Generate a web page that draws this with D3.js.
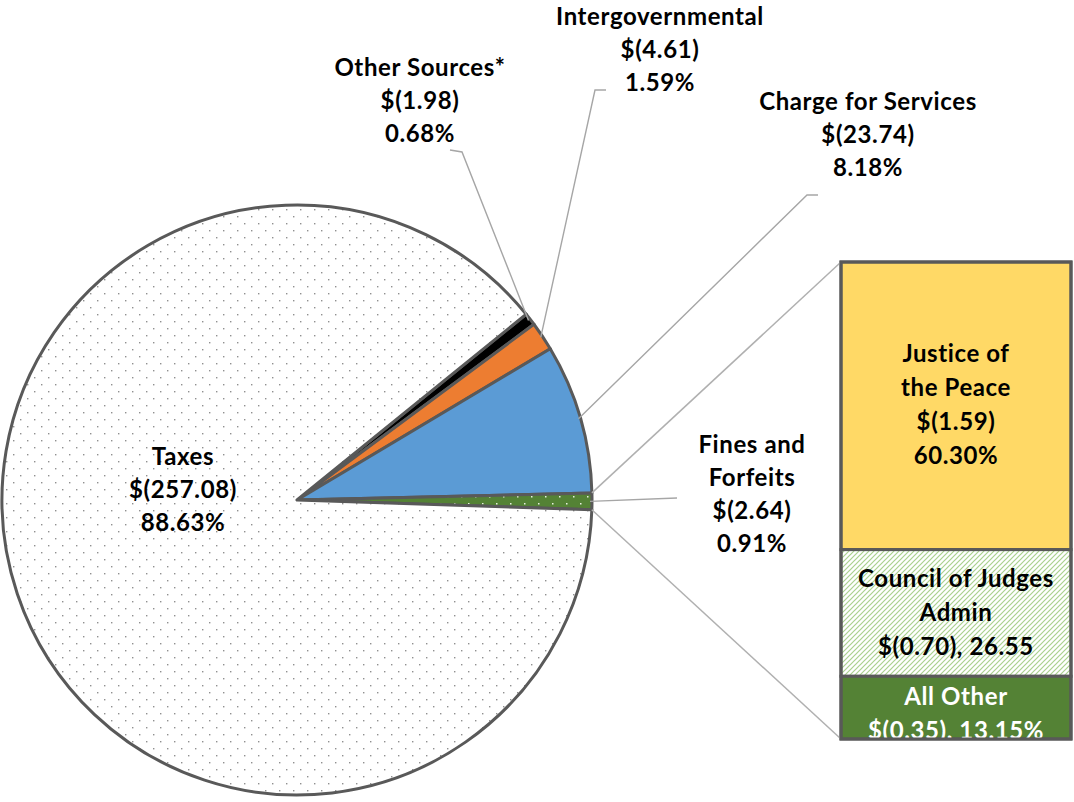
<!DOCTYPE html>
<html>
<head>
<meta charset="utf-8">
<script src="https://cdn.jsdelivr.net/npm/d3@7"></script>
<style>
  body { margin: 0; background: #fff; }
  svg text { font-family: Lato, "Open Sans", sans-serif; font-weight: 700; font-size: 24px; letter-spacing: 0.6px; fill: #000; }
</style>
</head>
<body>
<div id="chart"></div>
<script>
// revenue data (in millions), pie part
var pieNames = ["Other Sources*", "Intergovernmental", "Charge for Services", "Fines and Forfeits", "Taxes"];
var pieAmounts = [1.98, 4.61, 23.74, 2.64, 257.08];
var piePercents = [0.68, 1.59, 8.18, 0.91, 88.63];
var pieNameLines = [["Other Sources*"], ["Intergovernmental"], ["Charge for Services"], ["Fines and", "Forfeits"], ["Taxes"]];

// breakdown of fines and forfeits (bar part)
var barNames = ["Justice of the Peace", "Council of Judges Admin", "All Other"];
var barAmounts = [1.59, 0.70, 0.35];
var barPercents = [60.30, 26.55, 13.15];

var width = 1074;
var height = 802;
var cx = 297, cy = 500, radius = 295;
var bar = {left: 841, right: 1071, top: 262, bottom: 739};
var lineGap = 33;

var svg = d3.select("#chart").append("svg")
  .attr("width", width)
  .attr("height", height);

// patterns
var defs = svg.append("defs");
var dots = defs.append("pattern").attr("id", "dotsGray")
  .attr("patternUnits", "userSpaceOnUse").attr("width", 14).attr("height", 14);
dots.append("rect").attr("width", 14).attr("height", 14).attr("fill", "#fff");
dots.append("rect").attr("x", 3).attr("y", 3).attr("width", 1.4).attr("height", 1.4).attr("fill", "#909090");
dots.append("rect").attr("x", 10).attr("y", 10).attr("width", 1.4).attr("height", 1.4).attr("fill", "#909090");

var dotsGreen = defs.append("pattern").attr("id", "dotsGreen")
  .attr("patternUnits", "userSpaceOnUse").attr("width", 14).attr("height", 14);
dotsGreen.append("rect").attr("width", 14).attr("height", 14).attr("fill", "#548235");
dotsGreen.append("rect").attr("x", 3).attr("y", 3).attr("width", 1.5).attr("height", 1.5).attr("fill", "#e8f0e0");
dotsGreen.append("rect").attr("x", 10).attr("y", 10).attr("width", 1.5).attr("height", 1.5).attr("fill", "#e8f0e0");

var hatch = defs.append("pattern").attr("id", "hatch")
  .attr("patternUnits", "userSpaceOnUse").attr("width", 5).attr("height", 5);
hatch.append("rect").attr("width", 5).attr("height", 5).attr("fill", "#fff");
hatch.append("path").attr("d", "M-1,1 l2,-2 M0,5 l5,-5 M4,6 l2,-2")
  .attr("stroke", "#a9d18e").attr("stroke-width", 1.2);

var pieFills = ["#000000", "#ed7d31", "#5b9bd5", "url(#dotsGreen)", "url(#dotsGray)"];
var barFills = ["#ffd966", "url(#hatch)", "#548235"];
var barTextColors = ["#000", "#000", "#fff"];

// pie layout, fines slice sitting on the right horizontal
var deg = Math.PI / 180;
var total = d3.sum(pieAmounts);
var smallSum = d3.sum(pieAmounts.slice(0, 4));
var endOfFines = 91.9 * deg;
var start = endOfFines - smallSum / total * 2 * Math.PI;

var pie = d3.pie().sort(null).startAngle(start).endAngle(start + 2 * Math.PI);
var arcs = pie(pieAmounts);
var arc = d3.arc().innerRadius(0).outerRadius(radius);

function rimPoint(a, r) {
  return [cx + r * Math.sin(a), cy - r * Math.cos(a)];
}

var g = svg.append("g").attr("transform", "translate(" + cx + "," + cy + ")");
g.selectAll("path.slice")
  .data(arcs)
  .enter()
  .append("path")
  .attr("class", "slice")
  .attr("d", arc)
  .attr("fill", function(d, i) { return pieFills[i]; })
  .attr("stroke", "#595959")
  .attr("stroke-width", 3)
  .attr("stroke-linejoin", "round");

// bar part
var yBar = d3.scaleLinear().domain([0, d3.sum(barPercents)]).range([bar.top, bar.bottom]);
var cum = [0];
for (var i = 0; i < barPercents.length; i++) {
  cum.push(cum[i] + barPercents[i]);
}

defs.append("clipPath").attr("id", "barClip")
  .append("rect").attr("x", bar.left).attr("y", bar.top)
  .attr("width", bar.right - bar.left).attr("height", bar.bottom - bar.top);

svg.selectAll("rect.seg")
  .data(barPercents)
  .enter()
  .append("rect")
  .attr("class", "seg")
  .attr("x", bar.left)
  .attr("width", bar.right - bar.left)
  .attr("y", function(d, i) { return yBar(cum[i]); })
  .attr("height", function(d, i) { return yBar(cum[i + 1]) - yBar(cum[i]); })
  .attr("fill", function(d, i) { return barFills[i]; })
  .attr("stroke", "#595959")
  .attr("stroke-width", 3);

// connector lines from fines slice to the bar
var fines = arcs[3];
var pTop = rimPoint(fines.startAngle, radius);
var pBot = rimPoint(fines.endAngle, radius);
svg.append("line")
  .attr("x1", pTop[0]).attr("y1", pTop[1])
  .attr("x2", bar.left).attr("y2", yBar(0))
  .attr("stroke", "#b0b0b0").attr("stroke-width", 1.5);
svg.append("line")
  .attr("x1", pBot[0]).attr("y1", pBot[1])
  .attr("x2", bar.left).attr("y2", yBar(100))
  .attr("stroke", "#b0b0b0").attr("stroke-width", 1.5);

// leader lines for the small slices
var leaderEnds = [
  [[462, 152], [450, 150]],
  [[595, 90], [606, 90]],
  [[807, 195], [818, 195]],
  [[677, 498]]
];
leaderEnds.forEach(function(pts, i) {
  var a = (arcs[i].startAngle + arcs[i].endAngle) / 2;
  var p = [rimPoint(a, radius - 2)].concat(pts);
  svg.append("path")
    .attr("d", d3.line()(p))
    .attr("fill", "none")
    .attr("stroke", "#a6a6a6")
    .attr("stroke-width", 1.4);
});

// label positions: centre x, first baseline
var pieLabelPos = [[420, 76], [660, 25], [868, 110], [752, 453], [183, 465]];

function money(v) { return "$(" + v.toFixed(2) + ")"; }

arcs.forEach(function(d, i) {
  var lines = pieNameLines[i].concat([money(pieAmounts[i]), piePercents[i].toFixed(2) + "%"]);
  var t = svg.append("text")
    .attr("text-anchor", "middle");
  lines.forEach(function(s, k) {
    t.append("tspan")
      .attr("x", pieLabelPos[i][0])
      .attr("y", pieLabelPos[i][1] + k * lineGap)
      .text(s);
  });
});

// bar labels
var barLines = [
  ["Justice of", "the Peace", money(barAmounts[0]), barPercents[0].toFixed(2) + "%"],
  ["Council of Judges", "Admin", money(barAmounts[1]) + ", " + barPercents[1].toFixed(2)],
  ["All Other", money(barAmounts[2]) + ", " + barPercents[2].toFixed(2) + "%"]
];
var barLabelY = [362, 587, 705];
var barCx = (bar.left + bar.right) / 2;

barLines.forEach(function(lines, i) {
  var t = svg.append("text")
    .attr("text-anchor", "middle")
    .attr("clip-path", "url(#barClip)")
    .style("fill", barTextColors[i]);
  lines.forEach(function(s, k) {
    t.append("tspan")
      .attr("x", barCx)
      .attr("y", barLabelY[i] + k * (i == 0 ? 34 : lineGap + 1))
      .text(s);
  });
});

// redraw the bar outline on top
svg.append("rect")
  .attr("x", bar.left).attr("y", bar.top)
  .attr("width", bar.right - bar.left).attr("height", bar.bottom - bar.top)
  .attr("fill", "none").attr("stroke", "#595959").attr("stroke-width", 3);
</script>
</body>
</html>
